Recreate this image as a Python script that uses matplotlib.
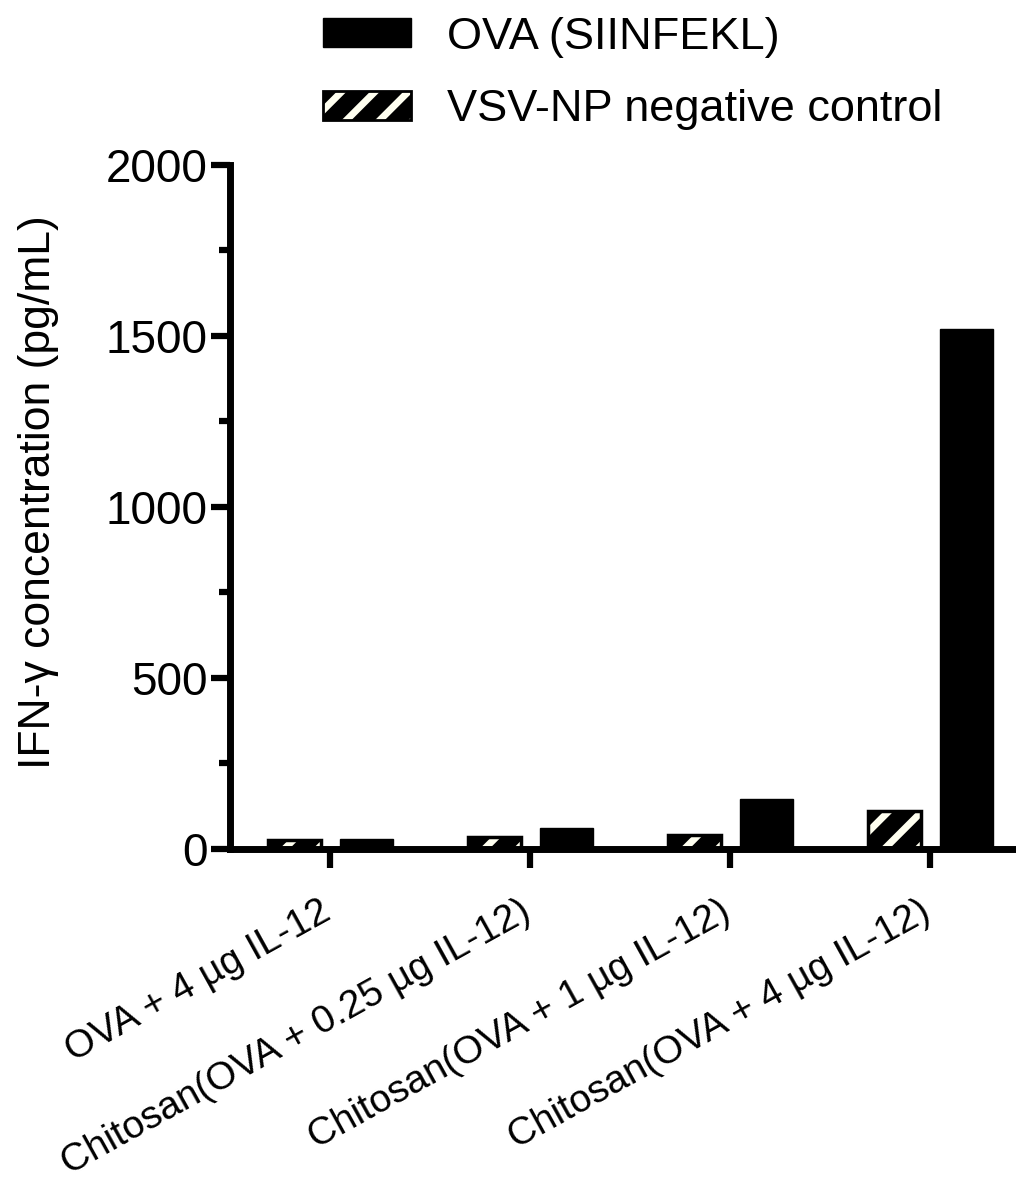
import numpy as np
import matplotlib
matplotlib.use("Agg")
from matplotlib import pyplot as plt
from matplotlib import transforms
from matplotlib.ticker import MultipleLocator
from matplotlib.legend_handler import HandlerTuple

plt.rcParams['font.family'] = ['Liberation Sans', 'DejaVu Sans']
plt.rcParams['hatch.linewidth'] = 5

# data
groups = ['OVA + 4 µg IL-12',
          'Chitosan(OVA + 0.25 µg IL-12)',
          'Chitosan(OVA + 1 µg IL-12)',
          'Chitosan(OVA + 4 µg IL-12)']
ova_siinfekl = [30, 60, 145, 1520]
vsv_np_control = [25, 35, 42, 110]

fig = plt.figure(figsize=(10.16, 11.88), dpi=100)
ax = fig.add_axes([0.2264, 0.2854, 0.7736, 0.5758])

x = np.arange(len(groups))
w = 0.265
off = 0.18

# hatched control bars: black face with cream stripes, then a black outline
ax.bar(x - off, vsv_np_control, w, color='black', edgecolor='#fffff0',
       hatch='/', linewidth=0, zorder=2)
ax.bar(x - off, vsv_np_control, w, fill=False, edgecolor='black',
       linewidth=2.5, zorder=3)
ax.bar(x + off, ova_siinfekl, w, color='black', edgecolor='black',
       linewidth=1, zorder=2)

ax.set_xlim(-0.5, 3.43)
ax.set_ylim(0, 2000)
ax.yaxis.set_major_locator(MultipleLocator(500))
ax.yaxis.set_minor_locator(MultipleLocator(250))

for s in ['top', 'right']:
    ax.spines[s].set_visible(False)
for s in ['left', 'bottom']:
    ax.spines[s].set_linewidth(5)
    ax.spines[s].set_capstyle('projecting')

ax.tick_params(axis='y', which='major', length=14, width=4.5, labelsize=33, pad=2)
ax.tick_params(axis='y', which='minor', length=8, width=4.5)
ax.tick_params(axis='x', which='major', length=14, width=4.5, labelsize=28, pad=16)

ax.set_xticks(x)
ax.set_xticklabels(groups, rotation=29, ha='right', rotation_mode='anchor')
shift = transforms.ScaledTranslation(-0.11, -0.03, fig.dpi_scale_trans)
for lab in ax.get_xticklabels():
    lab.set_transform(lab.get_transform() + shift)

ax.set_ylabel('IFN-γ concentration (pg/mL)', fontsize=32)
ax.yaxis.set_label_coords(-0.218, 0.522)

# legend built from proxy patches
h1 = plt.Rectangle((0, 0), 1, 1, facecolor='black', edgecolor='black')
h2 = plt.Rectangle((0, 0), 1, 1, facecolor='black', edgecolor='#fffff0',
                   hatch='/', linewidth=0)
h3 = plt.Rectangle((0, 0), 1, 1, fill=False, edgecolor='black', linewidth=2)
fig.legend([h1, (h2, h3)], ['OVA (SIINFEKL)', 'VSV-NP negative control'],
           handler_map={tuple: HandlerTuple(ndivide=1)},
           loc='upper left', bbox_to_anchor=(0.318, 0.986), frameon=False,
           fontsize=32.5, handlelength=1.95, handleheight=0.6,
           handletextpad=0.8, labelspacing=0.7, borderpad=0, borderaxespad=0)

fig.savefig('out.png', dpi=100)
